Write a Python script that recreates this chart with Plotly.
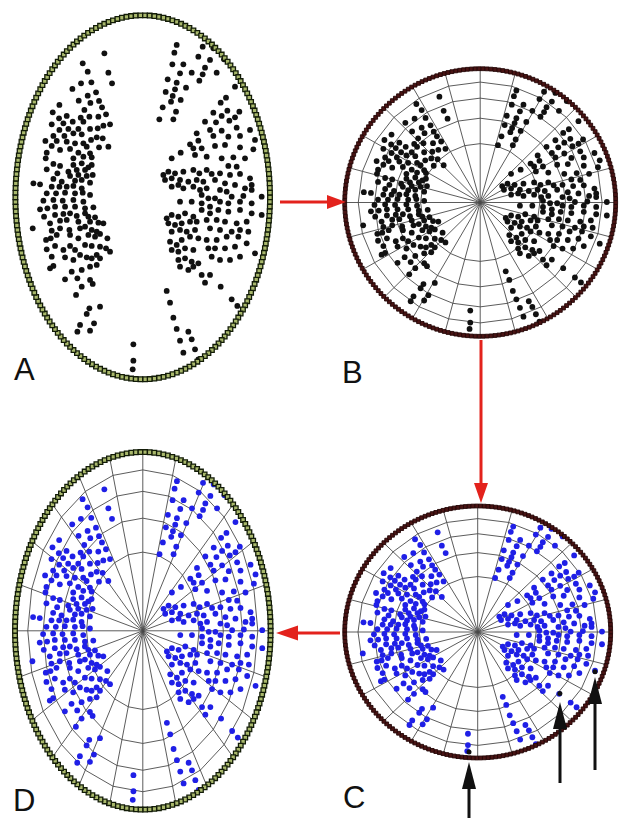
import numpy as np
import plotly.graph_objects as go

W, H = 619, 818

# ---- dot positions measured on panel A (units: 1/3 px of the original frame) ----
upper_left = [
    (313,160),(248,190),(263,215),(325,218),(336,250),(243,250),(274,247),(217,267),
    (288,277),(263,287),(236,302),(271,309),(297,303),(178,315),(158,337),(253,330),
    (306,322),(177,355),(200,348),(242,353),(268,350),(295,350),(318,343),(155,373),
    (190,370),(218,365),(250,365),(310,377),(330,373),(178,390),(205,387),(235,387),
    (270,387),(293,385),(160,408),(193,408),(220,400),(245,403),(308,415),(290,412),
    (273,420),(136,423),(170,423),(200,425),(225,430),(250,430),(260,440),(297,442),
    (155,438),(180,450),(210,447),(325,440),(235,458),(140,458),(270,460),(220,475),
    (250,470),(275,472),(137,475),
]
lower_left = [
    (160,492),(180,498),(220,495),(245,490),(275,495),
    (140,508),(205,515),(230,510),(255,510),(265,502),
    (172,520),(210,528),(235,525),(260,528),(278,525),
    (100,550),(120,553),(160,537),(185,545),(225,542),(245,540),(270,548),
    (155,560),(178,560),(200,560),(220,558),(245,565),
    (140,580),(168,580),(195,578),(225,580),(248,578),(270,585),
    (130,602),(160,600),(188,602),(220,600),(250,605),
    (120,628),(142,625),(165,620),(195,620),(225,620),(255,625),(280,622),
    (132,650),(165,645),(190,642),(210,640),(230,648),(255,640),(265,650),(285,652),
    (150,670),(180,662),(200,660),(235,665),(270,665),(295,668),(310,670),
    (98,685),(155,692),(180,685),(208,690),(240,685),(255,680),(275,690),(290,695),
    (138,720),(152,715),(170,705),(210,705),(235,715),(265,705),(285,710),(300,702),(322,715),
    (140,748),(165,738),(190,750),(210,738),(225,750),(255,735),(275,738),(300,740),(318,745),(330,755),
    (155,770),(195,772),(220,780),(240,765),(260,772),(275,775),(290,765),(300,775),
    (150,805),(160,798),(215,815),(245,810),(270,800),(290,795),
    (195,838),(232,835),(270,840),(245,860),(278,852),
    (228,885),(268,925),(300,920),(260,942),(240,975),(282,970),(232,995),(270,992),
    (400,1033),(400,1082),(398,1108),
]
upper_right = [
    (530,135),(608,140),(640,145),(672,178),(523,158),(595,170),(630,180),(517,193),
    (550,193),(615,203),(540,220),(575,218),(608,223),(650,218),(503,238),(530,248),
    (598,242),(558,263),(525,268),(497,276),(518,288),(542,300),(513,305),(488,322),
    (528,335),(478,358),(520,358),(705,260),(678,293),(662,308),(682,332),(640,338),
    (665,348),(718,335),(705,352),(615,365),(648,367),(688,362),(630,390),(665,392),
    (710,383),(750,390),(590,400),(640,408),(685,410),(720,408),(595,422),(570,433),
    (580,445),(605,445),(645,438),(675,435),(720,442),(765,420),(760,448),(542,458),
    (585,465),(515,475),(620,470),(665,475),(700,472),(735,475),
]
lower_right = [
    (685,498),(710,500),
    (490,525),(505,515),(525,520),(550,515),(580,510),(598,520),(620,510),(635,522),
    (660,520),(690,525),(720,522),(750,535),
    (495,540),(515,535),(540,540),(565,545),(590,540),(610,545),(645,540),(675,550),
    (705,555),(755,555),
    (515,560),(535,555),(550,565),(580,560),(600,570),(620,565),(660,570),(680,575),
    (735,565),(755,570),
    (605,585),(625,595),(645,595),(695,590),(730,588),(785,590),(815,592),
    (540,605),(575,605),(605,610),(630,620),(660,605),(685,610),(720,605),(755,610),
    (500,655),(515,645),(535,650),(555,640),(580,650),(605,630),(630,640),(655,630),
    (685,635),(720,630),(755,640),(785,645),(822,652),
    (505,670),(525,675),(545,670),(570,665),(590,665),(620,660),(650,660),(675,665),
    (710,670),(740,665),
    (515,695),(540,690),(560,695),(585,690),(630,685),(660,690),(695,695),(720,690),(745,695),
    (510,725),(530,735),(545,720),(570,710),(595,715),(620,720),(650,720),(680,710),(715,710),
    (515,750),(535,755),(555,745),(580,750),(625,745),(645,745),(675,745),(705,740),
    (740,730),(765,760),
    (535,780),(555,775),(575,785),(595,790),(635,770),(660,780),(690,780),(720,770),
    (540,800),(565,810),(580,800),(605,825),(630,825),
    (500,873),(615,848),(662,860),(510,908),(695,898),(712,918),(520,953),(530,987),
    (565,995),(540,1022),(575,1018),(550,1058),(585,1048),(595,1078),
]
# points marked with black arrows in panel C
marked_c = [(403,1112),(664,858),(765,764)]

ring_levels = [0.44, 0.63, 0.78, 0.90]
n_spokes = 24
labels = ["A", "B", "C", "D"]

# frame ellipse of the data (same units)
CX, CY, RX, RY = 428, 592, 382, 546

# panel placement on the page: centre x, centre y, radius x, radius y (px)
panels = {
    "A": (142.7, 197.3, 127.3, 182.0),
    "B": (480.2, 202.5, 135.5, 133.8),
    "C": (477.7, 632.0, 133.0, 126.0),
    "D": (142.8, 630.8, 127.8, 178.8),
}

all_pts = upper_left + lower_left + upper_right + lower_right
dot_x = [p[0] for p in all_pts]
dot_y = [p[1] for p in all_pts]


def outline_points(rxp, ryp, n):
    t = np.linspace(0, 2 * np.pi, 4001)
    xs, ys = rxp * np.cos(t), ryp * np.sin(t)
    s = np.concatenate([[0], np.cumsum(np.hypot(np.diff(xs), np.diff(ys)))])
    tt = np.interp(np.linspace(0, s[-1], n, endpoint=False), s, t)
    return CX + RX * np.cos(tt), CY + RY * np.sin(tt)


def grid_lines():
    gx, gy = [], []
    for k in range(n_spokes):
        a = 2 * np.pi * k / n_spokes
        gx += [CX, CX + RX * np.cos(a), None]
        gy += [CY, CY + RY * np.sin(a), None]
    for f in ring_levels:
        for k in range(n_spokes + 1):
            a = 2 * np.pi * k / n_spokes
            gx.append(CX + f * RX * np.cos(a))
            gy.append(CY + f * RY * np.sin(a))
        gx.append(None)
        gy.append(None)
    return gx, gy


fig = go.Figure()
layout_axes = {}
for i, name in enumerate(labels):
    cx, cy, rxp, ryp = panels[name]
    sfx = "" if i == 0 else str(i + 1)
    xa, ya = "x" + sfx, "y" + sfx
    layout_axes["xaxis" + sfx] = dict(
        domain=[(cx - rxp) / W, (cx + rxp) / W], range=[CX - RX, CX + RX],
        visible=False, fixedrange=True, anchor=ya)
    layout_axes["yaxis" + sfx] = dict(
        domain=[1 - (cy + ryp) / H, 1 - (cy - ryp) / H], range=[CY + RY, CY - RY],
        visible=False, fixedrange=True, anchor=xa)

    if name != "A":
        gx, gy = grid_lines()
        fig.add_trace(go.Scatter(x=gx, y=gy, mode="lines", xaxis=xa, yaxis=ya,
                                 line=dict(color="#4a4a4a", width=0.9),
                                 hoverinfo="skip", cliponaxis=False))
    dot_color = "#111111" if name in ("A", "B") else "#1f1fe6"
    fig.add_trace(go.Scatter(x=dot_x, y=dot_y, mode="markers", xaxis=xa, yaxis=ya,
                             marker=dict(size=5.8, color=dot_color, line=dict(width=0)),
                             cliponaxis=False))
    if name == "C":
        fig.add_trace(go.Scatter(x=[p[0] for p in marked_c], y=[p[1] for p in marked_c],
                                 mode="markers", xaxis=xa, yaxis=ya,
                                 marker=dict(size=5, color="#111111"), cliponaxis=False))
    if name in ("A", "D"):
        ox, oy = outline_points(rxp, ryp, 210)
        fig.add_trace(go.Scatter(x=ox, y=oy, mode="markers", xaxis=xa, yaxis=ya,
                                 marker=dict(symbol="square", size=4.6, color="#a9b86c",
                                             line=dict(color="#131c08", width=1.3)),
                                 cliponaxis=False))
    else:
        ox, oy = outline_points(rxp, ryp, 215)
        fig.add_trace(go.Scatter(x=ox, y=oy, mode="markers", xaxis=xa, yaxis=ya,
                                 marker=dict(symbol="square", size=3.8, color="#4a1414",
                                             line=dict(color="#220606", width=0.9)),
                                 cliponaxis=False))


def px(x):
    return x / W


def py(y):
    return 1 - y / H


shapes = []


def arrow(x0, y0, x1, y1, color, width, head_len, head_half):
    # line from (x0,y0) tail to (x1,y1) tip in page px
    d = np.hypot(x1 - x0, y1 - y0)
    ux, uy = (x1 - x0) / d, (y1 - y0) / d
    bx, by = x1 - ux * head_len, y1 - uy * head_len
    shapes.append(dict(type="line", xref="paper", yref="paper",
                       x0=px(x0), y0=py(y0), x1=px(bx + ux * 1), y1=py(by + uy * 1),
                       line=dict(color=color, width=width)))
    nx, ny = -uy, ux
    p1 = (bx + nx * head_half, by + ny * head_half)
    p2 = (bx - nx * head_half, by - ny * head_half)
    path = "M {},{} L {},{} L {},{} Z".format(px(x1), py(y1), px(p1[0]), py(p1[1]),
                                             px(p2[0]), py(p2[1]))
    shapes.append(dict(type="path", xref="paper", yref="paper", path=path,
                       fillcolor=color, line=dict(width=0)))


red = "#e3221c"
arrow(280, 202, 346, 202, red, 3, 19, 7)
arrow(481, 340, 481, 503, red, 3, 20, 7)
arrow(340, 633, 276, 633, red, 3, 22, 7.5)
arrow(469, 818, 469, 762, "#111111", 3, 27, 7)
arrow(560, 783, 560, 702, "#111111", 3, 27, 7)
arrow(595, 770, 595, 677, "#111111", 3, 27, 7)

label_pos = {"A": (24, 369), "B": (352, 372), "C": (354, 797), "D": (24, 800)}
annotations = []
for name in labels:
    x, y = label_pos[name]
    annotations.append(dict(text=name, x=px(x), y=py(y), xref="paper", yref="paper",
                            xanchor="center", yanchor="middle", showarrow=False,
                            font=dict(family="Arial, Liberation Sans, sans-serif",
                                      size=31, color="#111111")))

fig.update_layout(width=W, height=H, margin=dict(l=0, r=0, t=0, b=0),
                  paper_bgcolor="white", plot_bgcolor="rgba(0,0,0,0)",
                  showlegend=False, shapes=shapes, annotations=annotations,
                  **layout_axes)
fig.write_html("out.html", config={"displayModeBar": False, "staticPlot": True},
               post_script="document.body.style.margin='0';document.body.style.overflow='hidden';")
